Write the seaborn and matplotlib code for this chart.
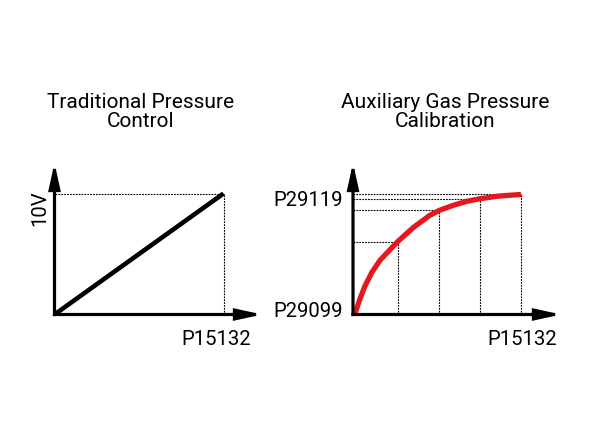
import matplotlib
matplotlib.use("Agg")
import matplotlib.pyplot as plt
import seaborn as sns
import numpy as np

# ---- data ----
left_title = "Traditional Pressure\nControl"
right_title = "Auxiliary Gas Pressure\nCalibration"
left_x = [0.0, 1.0]
left_y = [0.0, 1.0]
left_ylabel = "10V"
x_label = "P15132"
curve_x = [0.01, 0.042, 0.071, 0.111, 0.161, 0.265, 0.359, 0.458, 0.514, 0.597,
           0.677, 0.756, 0.855, 0.954, 1.0]
curve_y = [0.0, 0.1325, 0.237, 0.348, 0.4525, 0.606, 0.725, 0.827, 0.868, 0.910,
           0.943, 0.965, 0.985, 0.996, 1.0]
mark_x = [0.265, 0.514, 0.756, 1.0]
mark_y = [0.606, 0.870, 0.965, 1.008]
y_top_label = "P29119"
y_bottom_label = "P29099"

sns.set_style("white")
plt.rcParams['font.family'] = ['Roboto', 'DejaVu Sans']
plt.rcParams['text.color'] = 'black'

W, H = 610, 446
fig = plt.figure(figsize=(W / 100, H / 100), dpi=100)


def make_axes(ox, oy, ux, uy, tip_x, tip_y):
    ax = fig.add_axes([ox / W, (H - oy) / H, (tip_x - ox) / W, (oy - tip_y) / H])
    ax.set_xlim(0, (tip_x - ox) / ux)
    ax.set_ylim(0, (oy - tip_y) / uy)
    ax.set_axis_off()
    return ax


def draw_arrows(ax):
    xmax = ax.get_xlim()[1]
    ymax = ax.get_ylim()[1]
    style = "-|>,head_length=1.45,head_width=0.32"
    for xy in [(xmax, 0), (0, ymax)]:
        ax.annotate("", xy=xy, xytext=(0, 0),
                    arrowprops=dict(arrowstyle=style, lw=2.3, color="black",
                                    mutation_scale=10, shrinkA=0, shrinkB=0,
                                    joinstyle="miter", capstyle="projecting"),
                    annotation_clip=False)


dot = (0, (1.6, 1.0))
FS = 14.6

# ---- left panel ----
axL = make_axes(54.5, 314.5, 169, 121, 262, 163)
axL.plot([1, 1], [0, 1], color="black", lw=0.8, linestyle=dot)
axL.plot([0, 1], [1, 1], color="black", lw=0.8, linestyle=dot)
sns.lineplot(x=left_x, y=left_y, ax=axL, color="black", linewidth=3.3)
axL.lines[-1].set_solid_capstyle("butt")
draw_arrows(axL)
axL.text(-0.089, 0.88, left_ylabel, rotation=90, ha="center", va="center",
         fontsize=FS, color="black", clip_on=False)
axL.text(1.161, -0.21, x_label, ha="right", va="center", fontsize=FS,
         color="black", clip_on=False)

# ---- right panel ----
axR = make_axes(353, 314.5, 168, 120, 561, 163)
axR.vlines(mark_x, 0, mark_y, colors="black", lw=0.8, linestyles=[dot])
axR.hlines(mark_y, 0, mark_x, colors="black", lw=0.8, linestyles=[dot])
sns.lineplot(x=curve_x, y=curve_y, ax=axR, color="#e3191f", linewidth=3.8)
axR.lines[-1].set_solid_capstyle("butt")
axR.lines[-1].set_solid_joinstyle("round")
draw_arrows(axR)
axR.text(-0.06, 0.954, y_top_label, ha="right", va="center", fontsize=FS,
         color="black", clip_on=False)
axR.text(-0.06, 0.023, y_bottom_label, ha="right", va="center", fontsize=FS,
         color="black", clip_on=False)
axR.text(1.214, -0.205, x_label, ha="right", va="center", fontsize=FS,
         color="black", clip_on=False)

# ---- titles ----
fig.text(140.8 / W, 1 - 112 / H, left_title, ha="center", va="center",
         ma="center", fontsize=15, linespacing=0.95, color="black")
fig.text(445 / W, 1 - 112 / H, right_title, ha="center", va="center",
         ma="center", fontsize=15, linespacing=0.95, color="black")

fig.savefig("out.png", dpi=100, facecolor="white")
